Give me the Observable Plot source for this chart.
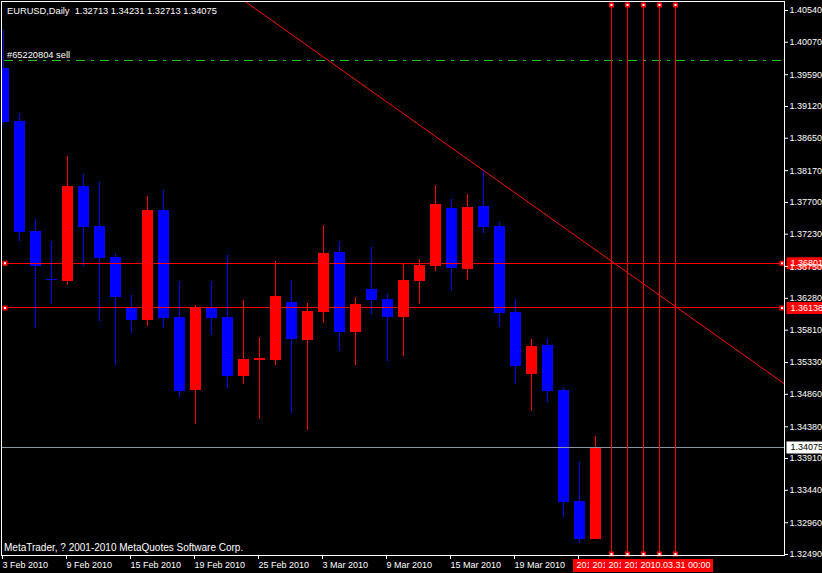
<!DOCTYPE html>
<html><head><meta charset="utf-8">
<script src="https://cdn.jsdelivr.net/npm/d3@7"></script>
<script src="https://cdn.jsdelivr.net/npm/@observablehq/plot@0.6"></script>
<style>html,body{margin:0;padding:0;background:#000;overflow:hidden}#chart svg{display:block}</style>
</head><body><div id="chart"></div>
<script>
// ---------------- data ----------------
const symbol = "EURUSD,Daily";
const dates = ["2010.02.03","2010.02.04","2010.02.05","2010.02.08","2010.02.09","2010.02.10","2010.02.11","2010.02.12",
  "2010.02.15","2010.02.16","2010.02.17","2010.02.18","2010.02.19","2010.02.22","2010.02.23","2010.02.24","2010.02.25",
  "2010.02.26","2010.03.01","2010.03.02","2010.03.03","2010.03.04","2010.03.05","2010.03.08","2010.03.09","2010.03.10",
  "2010.03.11","2010.03.12","2010.03.15","2010.03.16","2010.03.17","2010.03.18","2010.03.19","2010.03.22","2010.03.23",
  "2010.03.24","2010.03.25","2010.03.26"];
const open  = [1.39682,1.38898,1.37270,1.36559,1.36534,1.37936,1.37344,1.36885,1.36145,1.35957,1.37581,1.35997,1.34917,
  1.36130,1.35997,1.35128,1.35361,1.35361,1.36219,1.35657,1.36076,1.36959,1.35780,1.36411,1.36263,1.36002,1.36534,
  1.36756,1.37610,1.36707,1.37640,1.37344,1.36071,1.35158,1.35583,1.34917,1.33274,1.32713];
const high  = [1.40244,1.39012,1.37447,1.37122,1.38380,1.38113,1.37995,1.36940,1.36323,1.37788,1.37876,1.36530,1.36175,
  1.36530,1.36910,1.36249,1.35701,1.36826,1.36545,1.36204,1.37359,1.37122,1.36293,1.37033,1.36337,1.36789,1.36855,
  1.37950,1.37743,1.37817,1.38158,1.37403,1.36263,1.35672,1.35686,1.34946,1.33851,1.34231];
const low   = [1.38853,1.37122,1.35839,1.36194,1.36475,1.36756,1.35938,1.35291,1.35765,1.35868,1.35839,1.34813,1.34418,
  1.35735,1.34951,1.35010,1.34492,1.35291,1.34581,1.34329,1.35913,1.35498,1.35291,1.36046,1.35350,1.35424,1.36194,
  1.36682,1.36386,1.36549,1.37245,1.35854,1.35010,1.34611,1.34744,1.33038,1.32657,1.32713];
const close = [1.38883,1.37259,1.36756,1.36552,1.37936,1.37329,1.36875,1.36293,1.35957,1.37581,1.35987,1.34902,1.36130,
  1.35987,1.35128,1.35376,1.35390,1.36308,1.35672,1.36086,1.36944,1.35780,1.36190,1.36253,1.35997,1.36545,1.36767,
  1.37669,1.36727,1.37625,1.37333,1.36061,1.35276,1.35568,1.34902,1.33264,1.32705,1.34075];

const xTickBars   = [0,4,8,12,16,20,24,28,32,36];
const xTickLabels = ["3 Feb 2010","9 Feb 2010","15 Feb 2010","19 Feb 2010","25 Feb 2010","3 Mar 2010","9 Mar 2010","15 Mar 2010","19 Mar 2010"];
const priceTicks  = [1.40540,1.40070,1.39590,1.39120,1.38650,1.38170,1.37700,1.37230,1.36750,1.36280,1.35810,1.35330,
  1.34860,1.34380,1.33910,1.33440,1.32960,1.32490];

const levelLines  = [1.36801, 1.36138];          // red horizontal lines
const bidPrice    = 1.34075;                      // current price line
const orderText   = "#65220804 sell";
const orderPrice  = 1.39793;
const trendLine   = [{bar: 10, price: 1.41530}, {bar: 52, price: 1.34480}];
const vLineLabels = ["2010.03.27 00:00","2010.03.28 00:00","2010.03.29 00:00","2010.03.30 00:00","2010.03.31 00:00"];
const copyright   = "MetaTrader, ? 2001-2010 MetaQuotes Software Corp.";

// ---------------- layout (pre-offset pixel coordinates) ----------------
const W = 822, H = 573;
const L = 1, R = 784, T = 1, B = 555;
const barStep = 16, bar0 = 3, halfBody = 5.5;
const topTickPx = 10, botTickPx = 554;
const pMin = priceTicks[priceTicks.length - 1], pMax = priceTicks[0];
const pxPerPrice = (botTickPx - topTickPx) / (pMax - pMin);
const px2bar = px => (px - bar0) / barStep;
const py2price = py => pMin + (botTickPx - py) / pxPerPrice;

const RED = "#ff0000", BLUE = "#0000ff", WHITE = "#ffffff", GREEN = "#22c422", BIDC = "#8a96a3";

const bars = dates.map((d, i) => ({i, d, o: open[i], h: high[i], l: low[i], c: close[i], up: close[i] >= open[i]}));
const col = d => d.up ? RED : BLUE;
const dojis = bars.filter(d => Math.abs(d.o - d.c) * pxPerPrice < 1.5);
const vLines = vLineLabels.map((label, k) => ({i: dates.length + k, label,
  shown: k < vLineLabels.length - 1 ? label.slice(0, 3) : label}));   // earlier labels are covered by the next box
const last = bars[bars.length - 1];
const title = `${symbol}\u00a0\u00a0${[last.o, last.h, last.l, last.c].map(v => v.toFixed(5)).join(" ")}`;

const priceBoxes = [
  {p: levelLines[0], fill: RED, text: WHITE},
  {p: levelLines[1], fill: RED, text: WHITE},
  {p: bidPrice, fill: WHITE, text: "#000000"}
];

const vLabelMarks = vLines.flatMap(v => [
  Plot.rect([v], {x1: d => d.i - 38 / barStep, x2: d => d.i + 38 / barStep, y1: () => py2price(558.5), y2: () => py2price(571.5), fill: RED, shapeRendering: "crispEdges"}),
  Plot.text([v], {x: d => d.i - 35 / barStep, y: () => py2price(565), text: "shown", fill: WHITE, fontSize: 9, lineAnchor: "middle", textAnchor: "start"})
]);

const chart = Plot.plot({
  width: W, height: H,
  marginLeft: L, marginRight: W - R, marginTop: T, marginBottom: H - B,
  style: {background: "#000", color: WHITE, fontFamily: "'Liberation Sans', Arial, sans-serif", fontSize: "9px", overflow: "visible"},
  x: {type: "linear", domain: [px2bar(L), px2bar(R)], range: [L, R], axis: null},
  y: {type: "linear", domain: [py2price(B), py2price(T)], range: [B, T], axis: null},
  marks: [
    // candles
    Plot.ruleX(bars, {x: "i", y1: "l", y2: "h", stroke: col, clip: true, shapeRendering: "crispEdges"}),
    Plot.rect(bars, {x1: d => d.i - halfBody / barStep, x2: d => d.i + halfBody / barStep,
      y1: d => Math.min(d.o, d.c), y2: d => Math.max(d.o, d.c), fill: col, clip: true, shapeRendering: "crispEdges"}),
    Plot.ruleY(dojis, {y: "o", x1: d => d.i - halfBody / barStep, x2: d => d.i + halfBody / barStep, stroke: col, clip: true, shapeRendering: "crispEdges"}),
    // objects
    Plot.ruleY([orderPrice], {stroke: GREEN, strokeDasharray: "9,6,3,6", strokeDashoffset: -2.5, shapeRendering: "crispEdges"}),
    Plot.ruleY([bidPrice], {stroke: BIDC, shapeRendering: "crispEdges"}),
    Plot.ruleY(levelLines, {stroke: RED, shapeRendering: "crispEdges"}),
    Plot.line(trendLine, {x: "bar", y: "price", stroke: RED, strokeWidth: 1, clip: true}),
    Plot.ruleX(vLines, {x: "i", stroke: RED, shapeRendering: "crispEdges"}),
    Plot.dot(vLines, {x: "i", frameAnchor: "top", dy: 3.5, symbol: "square", r: 2, fill: WHITE, stroke: RED}),
    Plot.dot(vLines, {x: "i", frameAnchor: "bottom", dy: -1.5, symbol: "square", r: 2, fill: WHITE, stroke: RED}),
    Plot.dot(levelLines, {y: d => d, frameAnchor: "left", dx: 3.5, symbol: "square", r: 2, fill: WHITE, stroke: RED}),
    Plot.dot(levelLines, {y: d => d, frameAnchor: "right", dx: -2.5, symbol: "square", r: 2, fill: WHITE, stroke: RED}),
    // texts
    Plot.text([title], {frameAnchor: "top-left", dx: 5.5, dy: 12.5, text: d => d, textAnchor: "start", lineAnchor: "bottom", fill: WHITE, fontSize: 9.3}),
    Plot.text([orderText], {y: () => orderPrice, frameAnchor: "left", dx: 5.5, dy: -3, text: d => d, textAnchor: "start", lineAnchor: "bottom", fill: WHITE, fontSize: 9.3}),
    Plot.text([copyright], {frameAnchor: "bottom-left", dx: 2.5, dy: -5, text: d => d, textAnchor: "start", lineAnchor: "bottom", fill: WHITE, fontSize: 10}),
    Plot.frame({stroke: WHITE, shapeRendering: "crispEdges"}),
    // price label boxes on the right
    Plot.ruleY(priceBoxes, {y: "p", x1: () => px2bar(786.5), x2: () => px2bar(824), stroke: "fill", strokeWidth: 12}),
    Plot.text(priceBoxes, {y: "p", x: () => px2bar(790), text: d => d.p.toFixed(5), fill: "text", textAnchor: "start", lineAnchor: "middle", fontSize: 9}),
    // axes
    Plot.axisY(priceTicks, {anchor: "right", tickSize: 3, tickPadding: 2, tickFormat: d => d.toFixed(5), fontSize: 9, label: null, stroke: WHITE, fill: WHITE}),
    Plot.axisX(xTickBars, {anchor: "bottom", tickSize: 4, tickPadding: 2, tickFormat: i => xTickLabels[xTickBars.indexOf(i)] ?? "", textAnchor: "start", dx: -1, fontSize: 9, label: null, stroke: WHITE, fill: WHITE}),
    ...vLabelMarks
  ]
});
document.getElementById("chart").appendChild(chart);
</script>
</body></html>
